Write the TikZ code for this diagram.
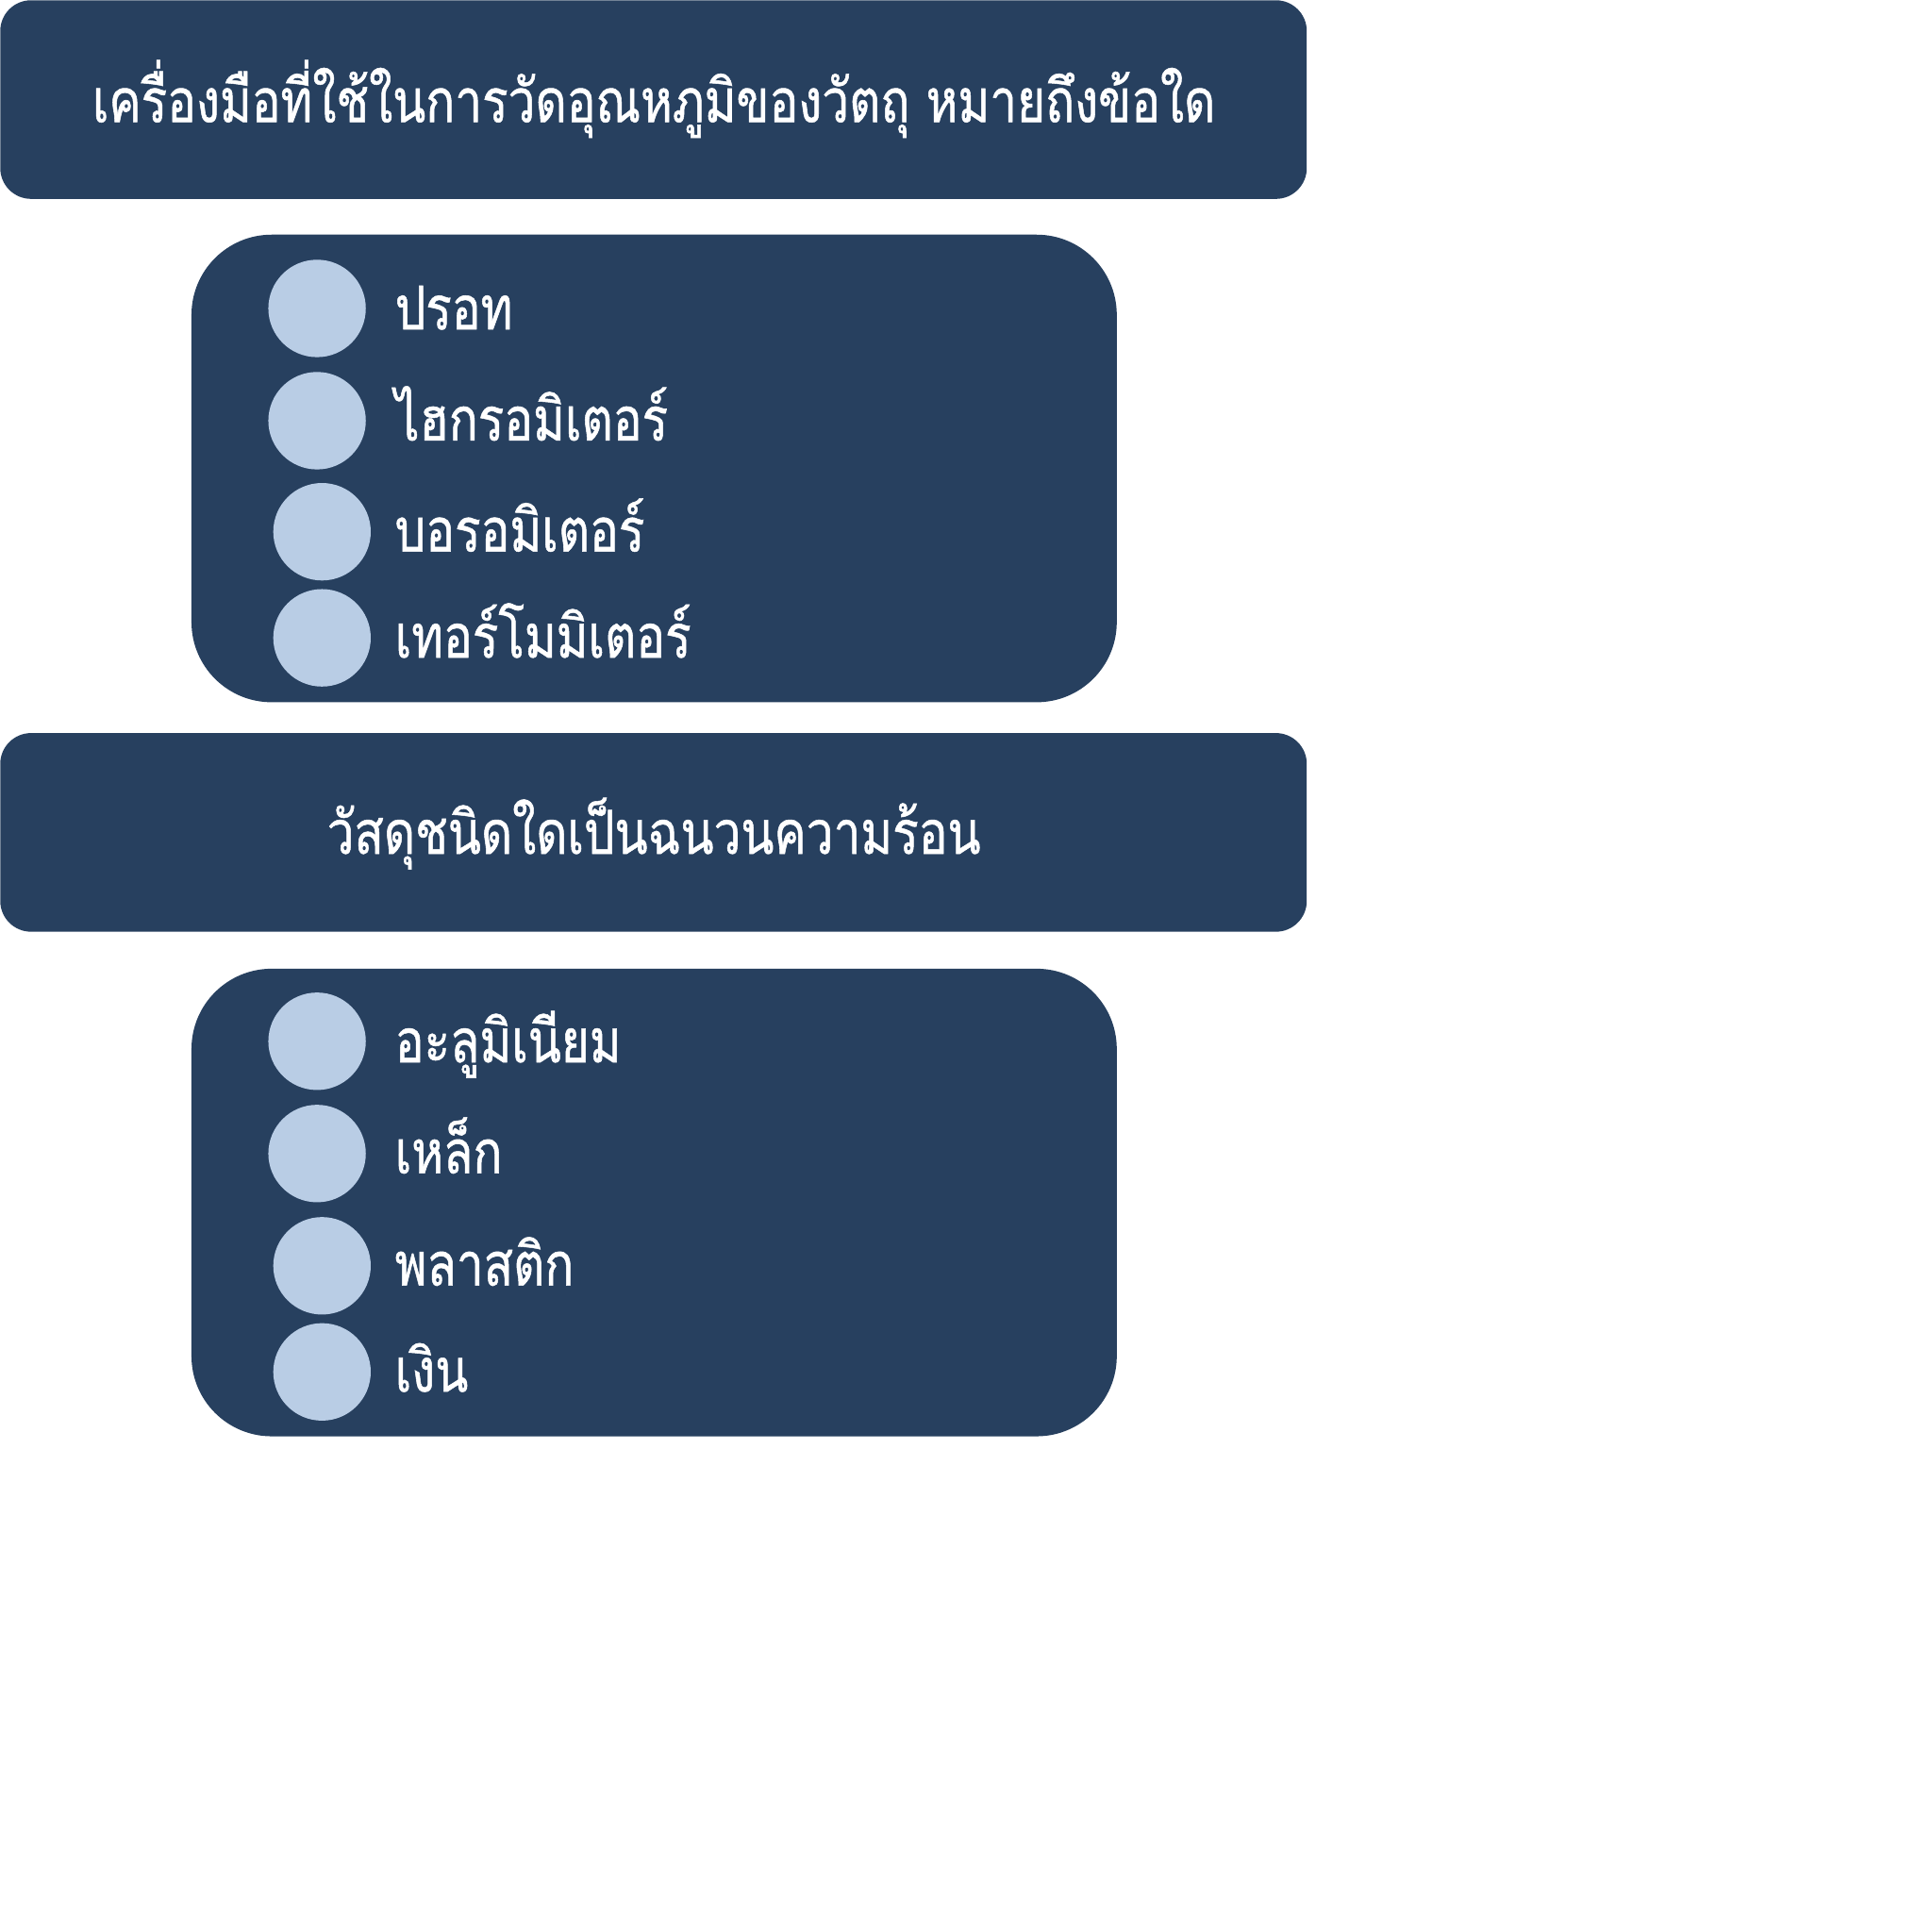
\documentclass[tikz,border=0pt]{standalone}
\usepackage{fontspec}
\newfontfamily\thaifont[Script=Thai,FakeStretch=0.8,FakeBold=0.8]{Loma}
\definecolor{navy}{HTML}{27405F}
\definecolor{lightb}{HTML}{B9CDE5}
\begin{document}
\begin{tikzpicture}[x=1pt,y=-1pt,
  qbox/.style={fill=navy,draw=none,rounded corners=25pt,inner sep=0pt,anchor=north west,minimum width=1059pt,minimum height=161pt},
  obox/.style={fill=navy,draw=none,rounded corners=65pt,inner sep=0pt,anchor=north west,minimum width=750pt,minimum height=379pt},
  dot/.style={circle,fill=lightb,draw=none,inner sep=0pt,minimum size=79pt},
  qtext/.style={text=white,font=\thaifont\fontsize{49}{60}\selectfont,inner sep=0pt,anchor=base},
  otext/.style={text=white,font=\thaifont\fontsize{49}{60}\selectfont,inner sep=0pt,anchor=base west}]
\useasboundingbox (0,0) rectangle (1566,1566);
% question 1
\node[qbox] (q1) at (0,0) {};
\node[qtext] (q1t) at (530,99) {เครื่องมือที่ใช้ในการวัดอุณหภูมิของวัตถุ หมายถึงข้อใด};
\node[obox] (o1) at (155,190) {};
\node[dot] (c11) at (257,250) {};
\node[dot] (c12) at (257,341) {};
\node[dot] (c13) at (261,431) {};
\node[dot] (c14) at (261,517) {};
\node[otext] (t11) at (320,267) {ปรอท};
\node[otext] (t12) at (320,357) {ไฮกรอมิเตอร์};
\node[otext] (t13) at (320,447) {บอรอมิเตอร์};
\node[otext] (t14) at (320,533) {เทอร์โมมิเตอร์};
% question 2
\node[qbox] (q2) at (0,594) {};
\node[qtext] (q2t) at (530,692) {วัสดุชนิดใดเป็นฉนวนความร้อน};
\node[obox] (o2) at (155,785) {};
\node[dot] (c21) at (257,844) {};
\node[dot] (c22) at (257,935) {};
\node[dot] (c23) at (261,1026) {};
\node[dot] (c24) at (261,1112) {};
\node[otext] (t21) at (320,861) {อะลูมิเนียม};
\node[otext] (t22) at (320,951) {เหล็ก};
\node[otext] (t23) at (320,1042) {พลาสติก};
\node[otext] (t24) at (320,1128) {เงิน};
\end{tikzpicture}
\end{document}
